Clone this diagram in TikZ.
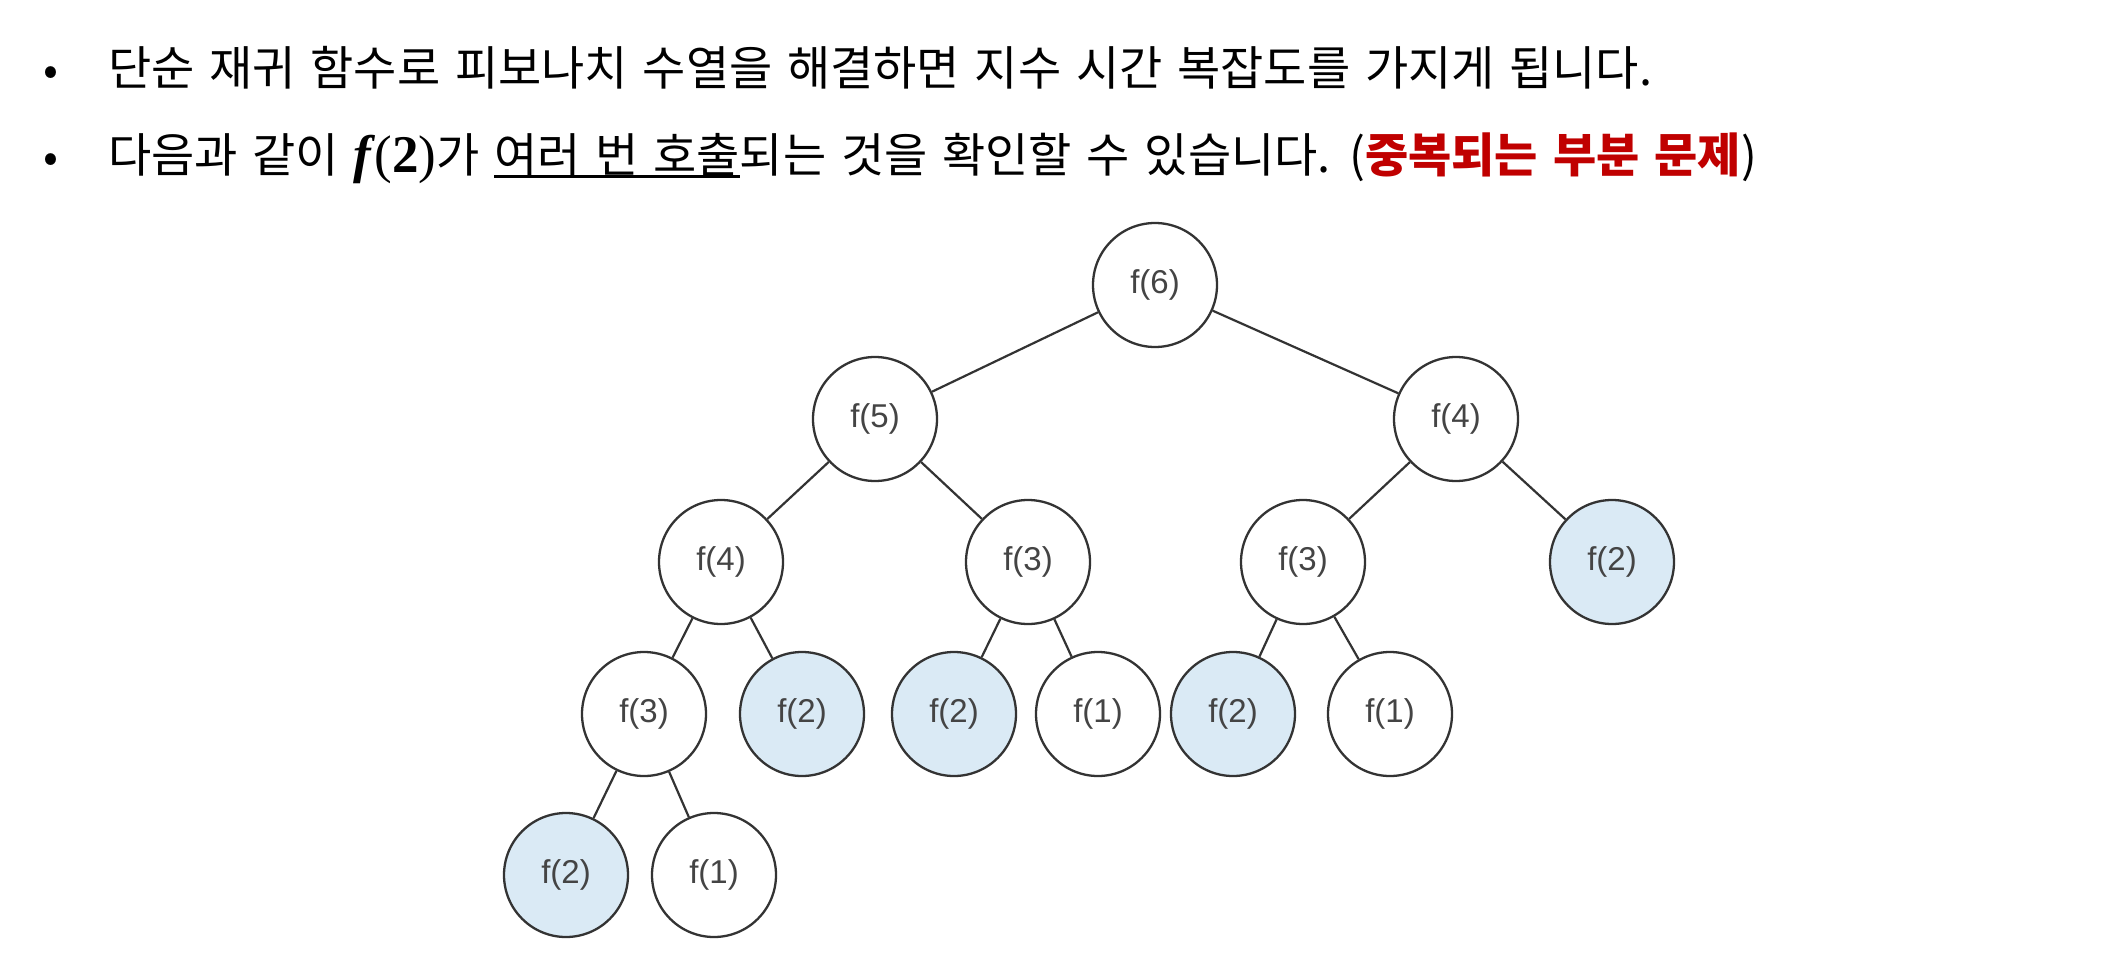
\documentclass[tikz,border=0pt]{standalone}
\usepackage{fontspec}
\setmainfont{Liberation Sans}
\newfontfamily\kr[WordSpace=1.4]{Noto Sans CJK KR}
\newfontfamily\serifmath{Liberation Serif}
\newcommand{\thickul}[1]{\setbox0\hbox{#1}\rlap{\rule[-6pt]{\wd0}{2.6pt}}\box0}
\definecolor{dupblue}{HTML}{DAEAF5}
\definecolor{nodeline}{HTML}{333333}
\definecolor{nodetext}{HTML}{444444}
\definecolor{hlred}{HTML}{C00000}
\begin{document}
\begin{tikzpicture}[x=1pt,y=-1pt,
  fn/.style={circle, draw=nodeline, line width=2.3pt, minimum size=124pt, inner sep=0pt, fill=white, text=nodetext, font=\fontsize{33}{38}\selectfont},
  dup/.style={fn, fill=dupblue},
  edge/.style={draw=nodeline, line width=2.2pt},
  txt/.style={anchor=base west, inner sep=0pt, font=\kr\fontsize{47}{54}\selectfont},
  bul/.style={anchor=base, inner sep=0pt, font=\kr\fontsize{44}{52}\selectfont}]
\useasboundingbox (0,0) rectangle (2120,958);
\fill[white] (0,0) rectangle (2120,958);
% text
\node[bul] (b1) at (51,85) {•};
\node[txt] (t1) at (108,85) {단순 재귀 함수로 피보나치 수열을 해결하면 지수 시간 복잡도를 가지게 됩니다.};
\node[bul] (b2) at (51,172) {•};
\node[txt] (t2) at (108,172) {다음과 같이 {\serifmath\fontsize{53}{60}\selectfont{\bfseries\itshape f}\hspace{3pt}(\textbf{2})}가 \thickul{여러 번 호출}되는 것을 확인할 수 있습니다. ({\color{hlred}\bfseries 중복되는 부분 문제})};
% tree
\node[fn] (f6) at (1155,285) {f(6)};
\node[fn] (f5) at (875,419) {f(5)};
\node[fn] (f4r) at (1456,419) {f(4)};
\node[fn] (f4) at (721,562) {f(4)};
\node[fn] (f3a) at (1028,562) {f(3)};
\node[fn] (f3b) at (1303,562) {f(3)};
\node[dup] (f2a) at (1612,562) {f(2)};
\node[fn] (f3c) at (644,714) {f(3)};
\node[dup] (f2b) at (802,714) {f(2)};
\node[dup] (f2c) at (954,714) {f(2)};
\node[fn] (f1a) at (1098,714) {f(1)};
\node[dup] (f2d) at (1233,714) {f(2)};
\node[fn] (f1b) at (1390,714) {f(1)};
\node[dup] (f2e) at (566,875) {f(2)};
\node[fn] (f1c) at (714,875) {f(1)};
\draw[edge] (f6) -- (f5);
\draw[edge] (f6) -- (f4r);
\draw[edge] (f5) -- (f4);
\draw[edge] (f5) -- (f3a);
\draw[edge] (f4r) -- (f3b);
\draw[edge] (f4r) -- (f2a);
\draw[edge] (f4) -- (f3c);
\draw[edge] (f4) -- (f2b);
\draw[edge] (f3a) -- (f2c);
\draw[edge] (f3a) -- (f1a);
\draw[edge] (f3b) -- (f2d);
\draw[edge] (f3b) -- (f1b);
\draw[edge] (f3c) -- (f2e);
\draw[edge] (f3c) -- (f1c);
\end{tikzpicture}
\end{document}
